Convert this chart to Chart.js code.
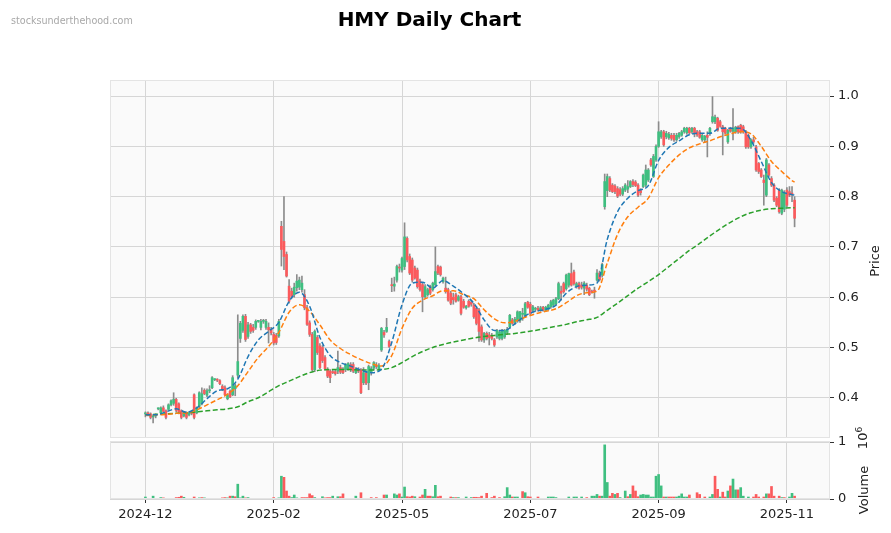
<!DOCTYPE html>
<html>
<head>
<meta charset="utf-8">
<script src="https://cdn.jsdelivr.net/npm/chart.js@4.4.1/dist/chart.umd.min.js"></script>
<style>
  body { margin: 0; background: #fff; }
  #wrap { position: relative; width: 891px; height: 533px; overflow: hidden; font-family: "DejaVu Sans", sans-serif; }
  #price { position: absolute; left: 0; top: 0; }
  #vol { position: absolute; left: 0; top: 420px; }
  .txt { position: absolute; white-space: nowrap; }
  #title { left: 0; width: 859px; top: 7px; text-align: center; font-weight: bold; font-size: 20px; color: #000; }
  #wm { left: 11px; top: 15px; font-size: 9.6px; color: #a8a8a8; }
  .rot { transform: translate(-50%, -50%) rotate(-90deg); font-size: 13px; color: #222; }
</style>
</head>
<body>
<div id="wrap">
  <canvas id="price" width="891" height="460"></canvas>
  <canvas id="vol" width="891" height="113"></canvas>
  <div id="title" class="txt">HMY Daily Chart</div>
  <div id="wm" class="txt">stocksunderthehood.com</div>
  <div class="txt rot" style="left:874px; top:261px;">Price</div>
  <div class="txt rot" style="left:863px; top:490px;">Volume</div>
  <div class="txt rot" style="left:862px; top:438px;">10<sup style="font-size:9px">6</sup></div>
</div>
<script>
// daily candles, index 0 = first session shown
const opens = [
  0.368,0.370,0.368,0.362,0.364,0.378,0.370,0.380,0.374,0.377,
  0.386,0.389,0.397,0.388,0.374,0.364,0.370,0.366,0.370,0.406,
  0.370,0.383,0.388,0.415,0.405,0.414,0.420,0.436,0.436,0.434,
  0.423,0.420,0.398,0.413,0.406,0.418,0.445,0.518,0.534,0.562,
  0.522,0.545,0.540,0.540,0.552,0.540,0.552,0.540,0.540,0.536,
  0.526,0.524,0.523,0.741,0.711,0.685,0.622,0.612,0.605,0.619,
  0.620,0.615,0.605,0.579,0.549,0.526,0.456,0.520,0.503,0.500,
  0.480,0.456,0.453,0.452,0.452,0.453,0.460,0.456,0.456,0.458,
  0.466,0.466,0.450,0.456,0.456,0.430,0.449,0.430,0.450,0.459,
  0.464,0.458,0.495,0.530,0.532,0.512,0.625,0.622,0.634,0.660,
  0.654,0.661,0.717,0.681,0.674,0.658,0.654,0.632,0.625,0.601,
  0.605,0.621,0.615,0.625,0.661,0.660,0.631,0.618,0.615,0.608,
  0.600,0.605,0.594,0.601,0.592,0.579,0.592,0.590,0.584,0.578,
  0.575,0.541,0.515,0.528,0.525,0.524,0.515,0.521,0.518,0.518,
  0.521,0.530,0.541,0.555,0.550,0.554,0.554,0.566,0.564,0.590,
  0.586,0.574,0.576,0.578,0.575,0.580,0.574,0.576,0.581,0.584,
  0.587,0.597,0.612,0.627,0.617,0.624,0.647,0.650,0.621,0.627,
  0.624,0.618,0.624,0.618,0.612,0.614,0.634,0.648,0.644,0.780,
  0.812,0.836,0.823,0.821,0.816,0.814,0.805,0.813,0.815,0.820,
  0.830,0.829,0.823,0.812,0.820,0.823,0.833,0.873,0.840,0.873,
  0.900,0.919,0.929,0.919,0.917,0.922,0.922,0.913,0.919,0.922,
  0.929,0.927,0.936,0.929,0.936,0.929,0.929,0.913,0.913,0.922,
  0.926,0.949,0.949,0.956,0.949,0.939,0.936,0.909,0.936,0.930,
  0.929,0.939,0.942,0.939,0.929,0.922,0.899,0.913,0.899,0.866,
  0.853,0.833,0.803,0.863,0.836,0.823,0.797,0.813,0.767,0.775,
  0.813,0.810,0.806,0.793
];
const highs = [
  0.372,0.372,0.370,0.366,0.368,0.380,0.382,0.384,0.376,0.388,
  0.396,0.410,0.399,0.390,0.376,0.372,0.372,0.372,0.374,0.408,
  0.382,0.412,0.420,0.418,0.418,0.424,0.442,0.438,0.438,0.436,
  0.426,0.424,0.408,0.416,0.444,0.428,0.565,0.552,0.565,0.566,
  0.550,0.548,0.546,0.555,0.554,0.556,0.556,0.556,0.549,0.540,
  0.530,0.528,0.556,0.751,0.800,0.690,0.635,0.618,0.628,0.645,
  0.640,0.642,0.615,0.584,0.553,0.530,0.535,0.524,0.508,0.504,
  0.484,0.460,0.456,0.455,0.456,0.493,0.465,0.460,0.468,0.470,
  0.470,0.470,0.460,0.460,0.458,0.460,0.452,0.465,0.462,0.472,
  0.470,0.468,0.540,0.534,0.558,0.515,0.638,0.640,0.664,0.666,
  0.680,0.748,0.720,0.686,0.678,0.662,0.658,0.636,0.628,0.625,
  0.618,0.624,0.630,0.700,0.664,0.662,0.640,0.640,0.618,0.612,
  0.608,0.608,0.604,0.604,0.596,0.584,0.595,0.594,0.588,0.582,
  0.578,0.545,0.530,0.531,0.530,0.528,0.518,0.536,0.534,0.536,
  0.536,0.540,0.566,0.558,0.560,0.573,0.572,0.578,0.590,0.592,
  0.590,0.584,0.580,0.582,0.582,0.582,0.582,0.586,0.594,0.596,
  0.600,0.630,0.622,0.630,0.646,0.648,0.668,0.654,0.630,0.630,
  0.630,0.631,0.628,0.620,0.614,0.620,0.655,0.652,0.668,0.845,
  0.845,0.840,0.826,0.824,0.820,0.818,0.820,0.826,0.832,0.832,
  0.834,0.832,0.826,0.816,0.845,0.863,0.856,0.876,0.884,0.903,
  0.949,0.932,0.932,0.930,0.928,0.926,0.926,0.926,0.928,0.932,
  0.938,0.938,0.938,0.938,0.938,0.932,0.932,0.924,0.922,0.929,
  0.938,0.999,0.962,0.958,0.952,0.942,0.938,0.934,0.938,0.975,
  0.940,0.941,0.944,0.942,0.932,0.925,0.915,0.918,0.902,0.868,
  0.856,0.843,0.876,0.866,0.840,0.826,0.800,0.816,0.815,0.812,
  0.818,0.820,0.820,0.800
];
const lows = [
  0.362,0.364,0.358,0.350,0.360,0.376,0.368,0.372,0.358,0.375,
  0.384,0.385,0.372,0.368,0.358,0.362,0.358,0.364,0.366,0.358,
  0.368,0.380,0.386,0.406,0.402,0.410,0.418,0.434,0.432,0.426,
  0.414,0.404,0.396,0.400,0.404,0.404,0.440,0.510,0.530,0.512,
  0.518,0.528,0.530,0.536,0.550,0.535,0.548,0.536,0.509,0.525,
  0.505,0.506,0.520,0.662,0.655,0.640,0.588,0.598,0.600,0.612,
  0.615,0.610,0.575,0.544,0.522,0.453,0.452,0.486,0.458,0.470,
  0.455,0.440,0.430,0.448,0.445,0.448,0.448,0.448,0.452,0.455,
  0.452,0.450,0.448,0.450,0.408,0.426,0.426,0.416,0.445,0.455,
  0.458,0.455,0.492,0.520,0.530,0.500,0.611,0.612,0.630,0.650,
  0.650,0.655,0.670,0.645,0.630,0.636,0.618,0.612,0.571,0.598,
  0.602,0.605,0.612,0.622,0.645,0.642,0.628,0.608,0.592,0.585,
  0.586,0.590,0.592,0.565,0.578,0.576,0.580,0.582,0.558,0.545,
  0.512,0.512,0.510,0.515,0.505,0.515,0.502,0.518,0.515,0.515,
  0.518,0.526,0.538,0.546,0.546,0.550,0.550,0.554,0.560,0.578,
  0.565,0.570,0.572,0.572,0.572,0.572,0.572,0.574,0.578,0.582,
  0.585,0.595,0.594,0.608,0.614,0.620,0.622,0.624,0.618,0.616,
  0.616,0.605,0.612,0.603,0.608,0.598,0.632,0.632,0.640,0.775,
  0.800,0.810,0.808,0.806,0.798,0.802,0.802,0.810,0.808,0.818,
  0.820,0.820,0.800,0.803,0.818,0.820,0.830,0.860,0.838,0.870,
  0.898,0.916,0.900,0.915,0.914,0.912,0.910,0.910,0.916,0.920,
  0.926,0.924,0.924,0.926,0.919,0.920,0.916,0.910,0.908,0.879,
  0.922,0.946,0.945,0.930,0.938,0.883,0.924,0.906,0.928,0.913,
  0.926,0.926,0.926,0.926,0.896,0.896,0.896,0.906,0.850,0.846,
  0.838,0.783,0.800,0.840,0.820,0.790,0.780,0.767,0.764,0.770,
  0.780,0.800,0.790,0.740
];
const closes = [
  0.370,0.366,0.361,0.364,0.366,0.378,0.380,0.373,0.361,0.386,
  0.394,0.397,0.375,0.372,0.361,0.370,0.361,0.370,0.369,0.361,
  0.380,0.410,0.408,0.408,0.414,0.416,0.440,0.436,0.435,0.428,
  0.416,0.406,0.406,0.402,0.440,0.424,0.472,0.548,0.562,0.516,
  0.545,0.532,0.534,0.552,0.552,0.552,0.552,0.552,0.535,0.529,
  0.509,0.510,0.552,0.695,0.681,0.642,0.592,0.602,0.620,0.632,
  0.634,0.628,0.579,0.546,0.526,0.456,0.532,0.490,0.460,0.474,
  0.458,0.443,0.440,0.450,0.448,0.460,0.451,0.450,0.466,0.468,
  0.456,0.453,0.456,0.453,0.410,0.450,0.429,0.462,0.458,0.470,
  0.462,0.464,0.538,0.525,0.540,0.502,0.623,0.626,0.661,0.658,
  0.677,0.720,0.674,0.648,0.634,0.638,0.621,0.615,0.601,0.621,
  0.615,0.608,0.628,0.651,0.648,0.645,0.638,0.611,0.594,0.588,
  0.595,0.592,0.601,0.568,0.580,0.582,0.582,0.586,0.561,0.548,
  0.532,0.515,0.528,0.518,0.520,0.518,0.505,0.534,0.531,0.534,
  0.534,0.536,0.564,0.548,0.556,0.571,0.571,0.568,0.587,0.580,
  0.568,0.581,0.578,0.575,0.579,0.574,0.580,0.584,0.591,0.594,
  0.597,0.627,0.608,0.611,0.644,0.647,0.624,0.627,0.627,0.618,
  0.620,0.628,0.616,0.605,0.610,0.612,0.648,0.635,0.665,0.830,
  0.840,0.813,0.810,0.810,0.801,0.805,0.816,0.823,0.820,0.830,
  0.824,0.822,0.803,0.808,0.843,0.853,0.853,0.863,0.880,0.900,
  0.929,0.929,0.903,0.926,0.924,0.916,0.913,0.922,0.926,0.929,
  0.936,0.936,0.927,0.936,0.926,0.923,0.918,0.922,0.920,0.918,
  0.936,0.959,0.958,0.932,0.940,0.929,0.926,0.932,0.930,0.936,
  0.938,0.929,0.929,0.929,0.899,0.899,0.913,0.909,0.853,0.850,
  0.840,0.828,0.873,0.843,0.823,0.793,0.783,0.770,0.813,0.808,
  0.783,0.803,0.805,0.757
];
// volume in millions of shares
const volumes = [
  0.035,0.010,0.010,0.050,0.010,0.005,0.025,0.020,0.010,0.005,
  0.005,0.010,0.025,0.030,0.050,0.030,0.010,0.005,0.005,0.035,
  0.010,0.020,0.025,0.020,0.005,0.005,0.005,0.005,0.005,0.005,
  0.020,0.025,0.020,0.050,0.050,0.040,0.260,0.020,0.050,0.020,
  0.025,0.005,0.005,0.005,0.005,0.005,0.005,0.005,0.005,0.005,
  0.025,0.005,0.020,0.400,0.380,0.140,0.050,0.025,0.070,0.020,
  0.010,0.025,0.025,0.025,0.090,0.060,0.025,0.005,0.005,0.040,
  0.020,0.025,0.025,0.050,0.010,0.040,0.040,0.090,0.005,0.005,
  0.005,0.005,0.050,0.010,0.110,0.005,0.005,0.005,0.025,0.005,
  0.025,0.005,0.005,0.070,0.070,0.005,0.005,0.090,0.070,0.090,
  0.035,0.210,0.040,0.035,0.050,0.040,0.005,0.035,0.070,0.170,
  0.050,0.050,0.040,0.240,0.040,0.050,0.005,0.005,0.005,0.035,
  0.025,0.025,0.025,0.005,0.005,0.035,0.005,0.025,0.030,0.030,
  0.025,0.050,0.005,0.100,0.005,0.025,0.050,0.005,0.025,0.005,
  0.040,0.200,0.070,0.035,0.035,0.035,0.005,0.130,0.110,0.040,
  0.035,0.005,0.005,0.035,0.005,0.005,0.005,0.035,0.035,0.035,
  0.025,0.005,0.005,0.005,0.005,0.035,0.005,0.035,0.035,0.005,
  0.035,0.005,0.025,0.005,0.050,0.050,0.080,0.050,0.050,0.950,
  0.290,0.050,0.100,0.080,0.100,0.025,0.005,0.140,0.040,0.080,
  0.230,0.140,0.040,0.070,0.080,0.070,0.070,0.035,0.035,0.400,
  0.430,0.230,0.035,0.035,0.035,0.035,0.035,0.035,0.050,0.090,
  0.035,0.035,0.070,0.005,0.005,0.110,0.080,0.005,0.035,0.005,
  0.035,0.080,0.400,0.170,0.035,0.120,0.035,0.140,0.230,0.350,
  0.160,0.160,0.200,0.050,0.005,0.035,0.005,0.035,0.080,0.035,
  0.005,0.035,0.090,0.090,0.220,0.050,0.005,0.050,0.025,0.025,
  0.005,0.035,0.100,0.050
];

const maIdx = [
  0,4,8,12,16,20,24,28,32,36,40,44,48,52,56,60,64,68,72,76,80,84,88,92,96,100,
  104,108,112,116,120,124,128,132,136,140,144,148,152,156,160,164,168,172,176,180,
  184,188,192,196,200,204,208,212,216,220,224,228,232,236,240,244,248,252,253
];
const maBlue = [
  0.366,0.366,0.372,0.378,0.371,0.380,0.398,0.414,0.418,0.437,0.482,0.515,0.532,0.550,0.592,0.610,
  0.582,0.520,0.484,0.470,0.463,0.455,0.450,0.457,0.510,0.585,0.628,0.630,0.618,0.633,0.622,0.607,
  0.588,0.555,0.534,0.534,0.547,0.563,0.572,0.576,0.584,0.608,0.621,0.624,0.628,0.715,0.770,0.797,
  0.812,0.822,0.872,0.898,0.911,0.923,0.926,0.926,0.936,0.936,0.936,0.912,0.870,0.828,0.810,0.804,0.803
];
const maOrange = [
  0.366,0.366,0.367,0.369,0.370,0.376,0.386,0.396,0.407,0.424,0.452,0.480,0.502,0.530,0.570,0.585,
  0.572,0.545,0.515,0.498,0.486,0.476,0.468,0.463,0.484,0.538,0.578,0.594,0.603,0.613,0.613,0.605,
  0.597,0.575,0.557,0.549,0.552,0.560,0.567,0.572,0.577,0.589,0.603,0.609,0.612,0.668,0.725,0.760,
  0.779,0.797,0.838,0.863,0.883,0.897,0.905,0.911,0.919,0.925,0.929,0.925,0.900,0.870,0.850,0.832,0.829
];
const maGreen = [
  0.366,0.367,0.368,0.369,0.370,0.372,0.374,0.376,0.378,0.382,0.392,0.400,0.412,0.424,0.433,0.442,
  0.450,0.455,0.456,0.456,0.456,0.455,0.455,0.456,0.460,0.470,0.482,0.492,0.500,0.506,0.511,0.515,
  0.519,0.522,0.524,0.526,0.528,0.531,0.534,0.538,0.542,0.546,0.551,0.555,0.560,0.574,0.588,0.603,
  0.618,0.631,0.645,0.661,0.677,0.693,0.707,0.722,0.736,0.749,0.760,0.768,0.773,0.776,0.777,0.778,0.778
];

const tickIdx = [0, 50, 100, 150, 200, 250];
const tickLabels = ['2024-12', '2025-02', '2025-05', '2025-07', '2025-09', '2025-11'];
const priceTicks = [0.4, 0.5, 0.6, 0.7, 0.8, 0.9, 1.0];
const volTicks = [0, 1];

const UP = '#3fbf80';
const DOWN = '#fb5a5c';
const WICK = '#8c8c8c';
const GRID = '#d6d6d6';
const X_MIN = -13.8, X_MAX = 266.8;

Chart.defaults.font.family = '"DejaVu Sans", sans-serif';
Chart.defaults.font.size = 13;
Chart.defaults.color = '#222';

const idx = closes.map((_, i) => i);

// light panel face + thin frame like the matplotlib axes
const panelFace = {
  id: 'panelFace',
  beforeDraw(chart) {
    const { ctx, chartArea: a } = chart;
    ctx.save();
    ctx.fillStyle = '#fafafa';
    ctx.fillRect(a.left, a.top, a.right - a.left, a.bottom - a.top);
    ctx.restore();
  },
  afterDraw(chart) {
    const { ctx, chartArea: a } = chart;
    ctx.save();
    ctx.strokeStyle = '#e4e4e4';
    ctx.lineWidth = 1;
    ctx.strokeRect(a.left + 0.5, a.top + 0.5, a.right - a.left - 1, a.bottom - a.top - 1);
    ctx.restore();
  }
};

function maLine(values, color) {
  return {
    type: 'line',
    data: maIdx.map((x, k) => ({ x: x, y: values[k] })),
    borderColor: color,
    borderWidth: 1.5,
    borderDash: [5, 2.5],
    pointRadius: 0,
    cubicInterpolationMode: 'monotone',
    order: 0
  };
}

const xScale = (showLabels) => ({
  type: 'linear',
  min: X_MIN,
  max: X_MAX,
  offset: false,
  afterBuildTicks: s => { s.ticks = tickIdx.map(v => ({ value: v })); },
  grid: { color: GRID, tickColor: '#333', tickLength: 4, drawTicks: showLabels, offset: false },
  border: { display: false },
  ticks: {
    display: showLabels,
    autoSkip: false,
    maxRotation: 0,
    padding: 4,
    callback: v => tickLabels[tickIdx.indexOf(v)]
  },
  afterFit: s => { s.height = showLabels ? 34 : 2; }
});

new Chart(document.getElementById('price'), {
  type: 'bar',
  data: {
    datasets: [
      {
        data: idx.map(i => ({ x: i, y: [lows[i], highs[i]] })),
        backgroundColor: WICK,
        barThickness: 1,
        grouped: false,
        order: 3
      },
      {
        data: idx.map(i => ({ x: i, y: [opens[i], closes[i]] })),
        backgroundColor: idx.map(i => closes[i] >= opens[i] ? UP : DOWN),
        barThickness: 2,
        minBarLength: 1,
        grouped: false,
        order: 2
      },
      maLine(maBlue, '#1f77b4'),
      maLine(maOrange, '#ff7f0e'),
      maLine(maGreen, '#2ca02c')
    ]
  },
  options: {
    responsive: false,
    animation: false,
    layout: { padding: { left: 110, top: 80, right: 0, bottom: 20 } },
    plugins: { legend: { display: false }, tooltip: { enabled: false } },
    scales: {
      x: xScale(false),
      y: {
        position: 'right',
        min: 0.32,
        max: 1.032,
        afterBuildTicks: s => { s.ticks = priceTicks.map(v => ({ value: v })); },
        ticks: { callback: v => v.toFixed(1), padding: 4 },
        grid: { color: GRID, tickColor: '#333', tickLength: 4 },
        border: { display: false },
        afterFit: s => { s.width = 61; }
      }
    }
  },
  plugins: [panelFace]
});

new Chart(document.getElementById('vol'), {
  type: 'bar',
  data: {
    datasets: [{
      data: idx.map(i => ({ x: i, y: volumes[i] })),
      backgroundColor: idx.map(i => (i === 0 || closes[i] >= closes[i - 1]) ? UP : DOWN),
      barThickness: 2,
      grouped: false
    }]
  },
  options: {
    responsive: false,
    animation: false,
    layout: { padding: { left: 110, top: 21, right: 0, bottom: 0 } },
    plugins: { legend: { display: false }, tooltip: { enabled: false } },
    scales: {
      x: xScale(true),
      y: {
        position: 'right',
        min: 0,
        max: 1.018,
        afterBuildTicks: s => { s.ticks = volTicks.map(v => ({ value: v })); },
        ticks: { callback: v => String(v), padding: 4 },
        grid: { color: GRID, tickColor: '#333', tickLength: 4 },
        border: { display: false },
        afterFit: s => { s.width = 61; }
      }
    }
  },
  plugins: [panelFace]
});
</script>
</body>
</html>
